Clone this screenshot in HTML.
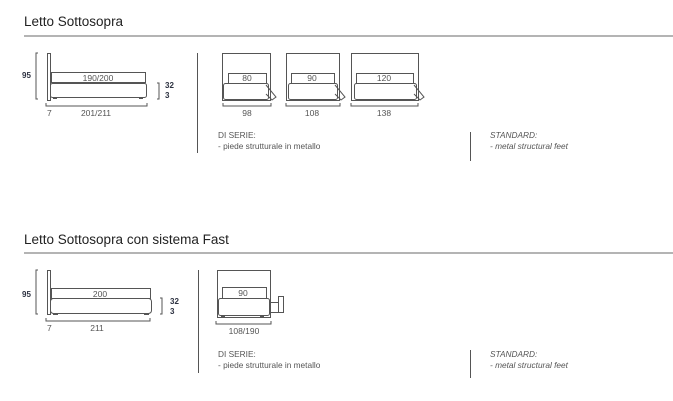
<!DOCTYPE html>
<html><head><meta charset="utf-8"><style>
html,body{margin:0;padding:0;background:#fff;}
svg{display:block;font-family:"Liberation Sans",sans-serif;}
.t{font-size:13.5px;fill:#222;}
.n{font-size:8px;fill:#2c3140;font-weight:bold;}
.m{font-size:8.5px;fill:#555;}
.s{font-size:8.3px;fill:#555;}
.l{fill:none;stroke:#555;stroke-width:1;}
.k{fill:none;stroke:#555;stroke-width:1.5;}
.f{fill:#555;}
</style></head><body>
<svg width="673" height="401" viewBox="0 0 673 401">
<!-- Block 1 -->
<text class="t" x="24" y="26">Letto Sottosopra</text>
<line x1="24" y1="36" x2="673" y2="36" stroke="#888" stroke-width="1.2"/>
<text class="n" x="22" y="78">95</text>
<path class="l" d="M38 53 H36 V99 H38"/>
<rect class="l" x="47.5" y="53.5" width="3" height="47"/>
<rect class="l" x="51.5" y="72.5" width="94" height="10"/>
<text class="m" x="98" y="81" text-anchor="middle" fill="#2c3140">190/200</text>
<rect class="l" x="50.5" y="83.5" width="96" height="14" rx="2"/>
<rect class="f" x="53" y="97" width="4" height="2"/><rect class="f" x="139" y="97" width="4" height="2"/>
<path class="l" d="M157 83 H159 V99 H157"/>
<text class="n" x="165" y="88">32</text><text class="n" x="165" y="98">3</text>
<path class="l" d="M46 103 V106 H147 V103"/>
<text class="m" x="47" y="116">7</text><text class="m" x="96" y="116" text-anchor="middle">201/211</text>
<line x1="197.5" y1="53" x2="197.5" y2="153" stroke="#555"/>

<g>
<rect class="l" x="222.5" y="53.5" width="48" height="47"/>
<rect class="l" x="228.5" y="73.5" width="38" height="10" fill="#fff"/>
<text class="m" x="247" y="81" text-anchor="middle">80</text>
<rect class="l" x="223.5" y="83.5" width="45" height="16" fill="#fff" rx="2"/>
<path class="l" d="M266 85 L276 97 L272 100 L266 94"/>
<rect class="f" x="226" y="99" width="4" height="2"/><rect class="f" x="260" y="99" width="4" height="2"/>
<path class="l" d="M223 103 V106 H271 V103"/>
<text class="m" x="247" y="116" text-anchor="middle">98</text>
</g>
<g>
<rect class="l" x="286.5" y="53.5" width="53" height="47"/>
<rect class="l" x="291.5" y="73.5" width="43" height="10" fill="#fff"/>
<text class="m" x="312" y="81" text-anchor="middle">90</text>
<rect class="l" x="288.5" y="83.5" width="49" height="16" fill="#fff" rx="2"/>
<path class="l" d="M335 85 L345 97 L341 100 L335 94"/>
<rect class="f" x="291" y="99" width="4" height="2"/><rect class="f" x="329" y="99" width="4" height="2"/>
<path class="l" d="M286 103 V106 H340 V103"/>
<text class="m" x="312" y="116" text-anchor="middle">108</text>
</g>
<g>
<rect class="l" x="351.5" y="53.5" width="67" height="47"/>
<rect class="l" x="356.5" y="73.5" width="57" height="10" fill="#fff"/>
<text class="m" x="384" y="81" text-anchor="middle" fill="#4a6a9a">120</text>
<rect class="l" x="354.5" y="83.5" width="62" height="16" fill="#fff" rx="2"/>
<path class="l" d="M414 85 L424 97 L420 100 L414 94"/>
<rect class="f" x="357" y="99" width="4" height="2"/><rect class="f" x="408" y="99" width="4" height="2"/>
<path class="l" d="M351 103 V106 H418 V103"/>
<text class="m" x="384" y="116" text-anchor="middle">138</text>
</g>
<text class="s" x="218" y="138">DI SERIE:</text>
<text class="s" x="218" y="149">- piede strutturale in metallo</text>
<line x1="470.5" y1="132" x2="470.5" y2="161" stroke="#555"/>
<text class="s" x="490" y="138" font-style="italic">STANDARD:</text>
<text class="s" x="490" y="149" font-style="italic">- metal structural feet</text>

<!-- Block 2 -->
<text class="t" x="24" y="244">Letto Sottosopra con sistema Fast</text>
<line x1="24" y1="253" x2="673" y2="253" stroke="#888" stroke-width="1.2"/>
<text class="n" x="22" y="297">95</text>
<path class="l" d="M38 270 H36 V314 H38"/>
<rect class="l" x="47.5" y="270.5" width="3" height="44"/>
<rect class="l" x="51.5" y="288.5" width="99" height="10"/>
<text class="m" x="100" y="297" text-anchor="middle" fill="#2c3140">200</text>
<rect class="l" x="50.5" y="298.5" width="101" height="15" rx="3"/>
<rect class="f" x="53" y="313" width="5" height="2"/><rect class="f" x="144" y="313" width="5" height="2"/>
<path class="l" d="M160 298 H162 V314 H160"/>
<text class="n" x="170" y="304">32</text><text class="n" x="170" y="314">3</text>
<path class="l" d="M46 318 V321 H150 V318"/>
<text class="m" x="47" y="331">7</text><text class="m" x="97" y="331" text-anchor="middle">211</text>
<line x1="198.5" y1="270" x2="198.5" y2="373" stroke="#555"/>

<rect class="l" x="217.5" y="270.5" width="53" height="47"/>
<rect class="l" x="222.5" y="287.5" width="44" height="11" fill="#fff"/>
<text class="m" x="243" y="296" text-anchor="middle">90</text>
<rect class="l" x="218.5" y="298.5" width="51" height="17" fill="#fff" rx="2"/>
<rect class="l" x="269.5" y="302.5" width="9" height="10"/>
<rect class="l" x="278.5" y="296.5" width="5" height="16"/>
<rect class="f" x="221" y="315" width="4" height="2"/><rect class="f" x="260" y="315" width="4" height="2"/>
<path class="l" d="M216 321 V324 H271 V321"/>
<text class="m" x="244" y="334" text-anchor="middle">108/190</text>
<text class="s" x="218" y="357">DI SERIE:</text>
<text class="s" x="218" y="368">- piede strutturale in metallo</text>
<line x1="470.5" y1="350" x2="470.5" y2="378" stroke="#555"/>
<text class="s" x="490" y="357" font-style="italic">STANDARD:</text>
<text class="s" x="490" y="368" font-style="italic">- metal structural feet</text>
</svg>
</body></html>
